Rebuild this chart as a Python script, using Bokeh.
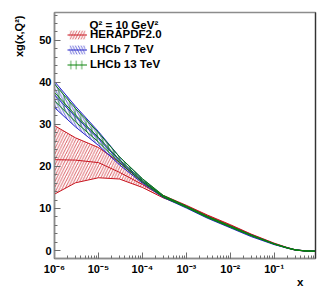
import math
from bokeh.plotting import figure
from bokeh.models import (LinearAxis, Label, Legend, LegendItem, CustomJSTickFormatter, Title,
                          LogTicker, SingleIntervalTicker, FixedTicker, ColumnDataSource)
from bokeh.embed import file_html
from bokeh.resources import INLINE

# ---- data ----
x_vals = [1e-6, 3e-6, 1e-5, 3e-5, 1e-4, 3e-4, 1e-3, 3e-3, 1e-2, 3e-2, 0.1, 0.2, 0.3, 0.5, 0.87]

hera_mid = [21.6, 21.5, 20.9, 18.6, 15.7, 12.8, 10.6, 8.3, 6.0, 3.8, 1.65, 0.65, 0.15, -0.1, -0.15]
hera_lo  = [13.4, 16.1, 17.3, 17.0, 15.0, 12.5, 10.45, 8.15, 5.85, 3.7, 1.55, 0.6, 0.1, -0.12, -0.17]
hera_hi  = [29.7, 26.8, 24.5, 21.0, 16.3, 13.1, 10.75, 8.45, 6.15, 3.9, 1.75, 0.7, 0.2, -0.08, -0.13]

lhcb7_mid = [37.0, 31.8, 26.6, 21.3, 16.5, 12.8, 10.3, 7.9, 5.6, 3.5, 1.5, 0.6, 0.15, -0.1, -0.15]
lhcb7_lo  = [34.0, 29.4, 25.0, 20.4, 16.0, 12.6, 10.1, 7.7, 5.4, 3.3, 1.4, 0.55, 0.1, -0.12, -0.17]
lhcb7_hi  = [40.2, 34.3, 28.3, 22.3, 17.0, 13.0, 10.5, 8.1, 5.8, 3.7, 1.6, 0.65, 0.2, -0.08, -0.13]

lhcb13_mid = [37.6, 32.2, 26.9, 21.6, 16.7, 12.9, 10.4, 8.0, 5.7, 3.6, 1.55, 0.6, 0.15, -0.1, -0.15]
lhcb13_lo  = [35.6, 30.6, 25.8, 20.9, 16.3, 12.7, 10.25, 7.85, 5.55, 3.5, 1.5, 0.55, 0.1, -0.12, -0.17]
lhcb13_hi  = [39.6, 33.8, 28.0, 22.3, 17.1, 13.1, 10.55, 8.15, 5.85, 3.7, 1.6, 0.65, 0.2, -0.08, -0.13]

series_labels = ["HERAPDF2.0", "LHCb 7 TeV", "LHCb 13 TeV"]
series_colors = ["#c8141e", "#2424c8", "#0a820a"]
series_hatch = ["/", "\\", "|"]

FONT = "Liberation Sans"

p = figure(width=332, height=288, x_axis_type="log",
           x_range=(1e-6, 0.87), y_range=(-1.9, 56.6),
           output_backend="svg", toolbar_location=None,
           min_border_left=50, min_border_right=17, min_border_top=12, min_border_bottom=30)
p.grid.visible = False
p.outline_line_color = "#8c8c8c"
p.outline_line_width = 1.5
p.background_fill_color = "white"
p.border_fill_color = "white"

def band(lo, hi, mid, color, hatch):
    src = ColumnDataSource(dict(x=x_vals, lo=lo, hi=hi, mid=mid))
    a = p.varea(x="x", y1="lo", y2="hi", source=src, fill_alpha=0,
                hatch_pattern=hatch, hatch_color=color, hatch_scale=5.5,
                hatch_weight=0.8, hatch_alpha=0.85)
    p.line("x", "lo", source=src, line_color=color, line_width=1)
    p.line("x", "hi", source=src, line_color=color, line_width=1)
    m = p.line("x", "mid", source=src, line_color=color, line_width=1)
    return [a, m]

r_hera = band(hera_lo, hera_hi, hera_mid, series_colors[0], series_hatch[0])
r_l7 = band(lhcb7_lo, lhcb7_hi, lhcb7_mid, series_colors[1], series_hatch[1])
r_l13 = band(lhcb13_lo, lhcb13_hi, lhcb13_mid, series_colors[2], series_hatch[2])

legend = Legend(items=[LegendItem(label=series_labels[0], renderers=r_hera),
                       LegendItem(label=series_labels[1], renderers=r_l7),
                       LegendItem(label=series_labels[2], renderers=r_l13)],
                location=(13, 188), orientation="vertical",
                background_fill_alpha=0, border_line_color=None,
                padding=0, margin=0, spacing=3,
                glyph_width=20, glyph_height=11, label_height=11, label_standoff=3,
                label_text_font=FONT, label_text_font_style="bold",
                label_text_font_size="11.5px", label_text_color="black")
p.add_layout(legend)

# axes
xa = p.xaxis[0]
ya = p.yaxis[0]
xa.ticker = LogTicker(desired_num_ticks=7, num_minor_ticks=10)
ya.ticker = SingleIntervalTicker(interval=10, num_minor_ticks=5)
xa.formatter = CustomJSTickFormatter(code="""
const e = Math.round(Math.log10(tick));
const m = {"-":"\\u207b","0":"\\u2070","1":"\\u00b9","2":"\\u00b2","3":"\\u00b3","4":"\\u2074","5":"\\u2075","6":"\\u2076","7":"\\u2077","8":"\\u2078","9":"\\u2079"};
return "10" + String(e).split("").map(c => m[c]).join("");
""")
for ax in (xa, ya):
    ax.axis_line_color = "#8c8c8c"
    ax.axis_line_width = 1.5
    ax.major_tick_in = 6
    ax.major_tick_out = 0
    ax.minor_tick_in = 3
    ax.minor_tick_out = 0
    ax.major_tick_line_color = "#6e6e6e"
    ax.minor_tick_line_color = "#6e6e6e"
    ax.major_label_text_font = FONT
    ax.major_label_text_font_style = "bold"
    ax.major_label_text_font_size = "11px"
    ax.major_label_text_color = "black"
xa.major_label_standoff = 4
ya.major_label_standoff = 3

right = LinearAxis(ticker=FixedTicker(ticks=[]), major_label_text_font_size="0px",
                   axis_line_color="#333333", axis_line_width=1.2,
                   major_tick_out=0, minor_tick_out=0, major_tick_in=0, minor_tick_in=0,
                   major_label_standoff=0,
                   major_tick_line_color=None, minor_tick_line_color=None)
p.add_layout(right, "right")

# axis titles (ROOT style: at the end of the axes)
p.add_layout(Title(text="xg(x,Q\u00b2)", align="right", vertical_align="middle",
                   offset=3, standoff=22, text_font=FONT, text_font_style="bold",
                   text_font_size="11px", text_color="black"), "left")
p.add_layout(Title(text="x", align="right", vertical_align="top",
                   offset=12, standoff=-3, text_font=FONT, text_font_style="bold",
                   text_font_size="11.5px", text_color="black"), "below")

# Q^2 caption inside the frame
p.add_layout(Label(x=1e-6, y=53.7, x_offset=35, text="Q\u00b2 = 10 GeV\u00b2",
                   text_align="left", text_baseline="middle",
                   text_font=FONT, text_font_style="bold", text_font_size="11.5px",
                   text_color="black"))

open("out.html", "w").write(file_html(p, INLINE))
